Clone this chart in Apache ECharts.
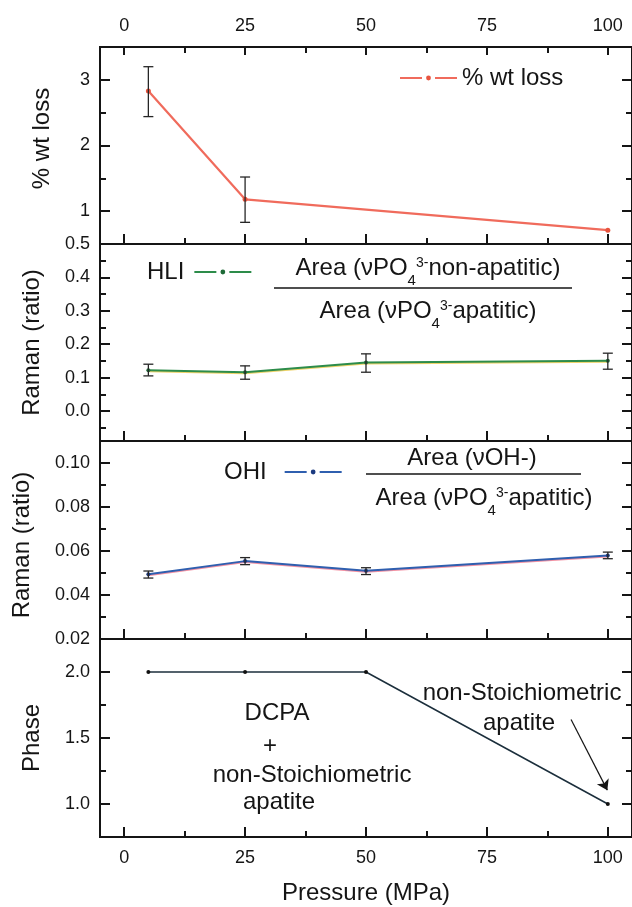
<!DOCTYPE html>
<html>
<head>
<meta charset="utf-8">
<script src="https://cdn.jsdelivr.net/npm/echarts@6/dist/echarts.min.js"></script>
<style>
  html, body { margin: 0; padding: 0; background: #fff; }
  #chart { width: 632px; height: 907px; }
</style>
</head>
<body>
<div id="chart"></div>
<script>
// pressure (MPa) of the samples
const pressure = [5, 25, 50, 100];
const wtPressure = [5, 25, 100];
// % weight loss
const wtLoss = [2.83, 1.18, 0.71];
const wtLow = [2.44, 0.83];
const wtHigh = [3.20, 1.52];
// HLI ratio
const hli = [0.122, 0.116, 0.145, 0.150];
const hliLow = [0.105, 0.095, 0.116, 0.125];
const hliHigh = [0.140, 0.135, 0.171, 0.173];
// OHI ratio
const ohi = [0.0494, 0.0554, 0.0510, 0.0580];
const ohiLow = [0.0477, 0.0538, 0.0493, 0.0565];
const ohiHigh = [0.0509, 0.0570, 0.0524, 0.0595];
// phase
const phase = [2.0, 2.0, 2.0, 1.0];
const arrowFrom = [92.4, 1.64];
const arrowTo = [99.9, 1.105];

// ticks
const xTicks = [0, 25, 50, 75, 100];
const xMinor = [12.5, 37.5, 62.5, 87.5];
const yNames = ['% wt loss', 'Raman (ratio)', 'Raman (ratio)', 'Phase'];
const yMin = [0.5, -0.09, 0.02, 0.75];
const yMax = [3.5, 0.5, 0.11, 2.25];
const yMajor = [[1, 2, 3], [0, 0.1, 0.2, 0.3, 0.4], [0.04, 0.06, 0.08, 0.10], [1.0, 1.5, 2.0]];
const yLabels = [[0.5, 1, 2, 3], [0, 0.1, 0.2, 0.3, 0.4], [0.02, 0.04, 0.06, 0.08, 0.10], [1.0, 1.5, 2.0]];
const yMinor = [[1.5, 2.5], [-0.05, 0.05, 0.15, 0.25, 0.35, 0.45], [0.03, 0.05, 0.07, 0.09], [1.25, 1.75]];
const yDecimals = [null, 1, 2, 1];

const FONT = 'Liberation Sans, Arial, Helvetica, sans-serif';
const INK = '#151515';
const gridTop = [47, 244, 441, 639];
const gridHeight = [197, 197, 198, 198];
const nameGaps = [42, 56, 66, 56];
const namePads = [[0, 0, 0, 14], 0, [0, 10, 0, 0], 0];

const chart = echarts.init(document.getElementById('chart'));

const grids = gridTop.map((t, i) => ({
  left: 100, top: t, width: 534, height: gridHeight[i],
  show: true, borderColor: INK, borderWidth: 2, backgroundColor: 'transparent'
}));

const xAxes = [];
const yAxes = [];
const mainX = [];
const mainY = [];

function xAxis(gi, pos, ticks, len, labels, extra) {
  xAxes.push(Object.assign({
    gridIndex: gi, type: 'value', min: -5, max: 105, position: pos,
    axisLine: { show: false, onZero: false },
    splitLine: { show: false },
    axisTick: { show: true, inside: true, length: len, customValues: ticks, lineStyle: { color: INK, width: 2 } },
    axisLabel: labels ? {
      show: true, customValues: xTicks, margin: 12,
      fontSize: 18, fontFamily: FONT, color: INK
    } : { show: false }
  }, extra || {}));
  return xAxes.length - 1;
}

function yAxis(gi, pos, ticks, len, labels, extra) {
  yAxes.push(Object.assign({
    gridIndex: gi, type: 'value', min: yMin[gi], max: yMax[gi], position: pos,
    axisLine: { show: false, onZero: false },
    splitLine: { show: false },
    axisTick: { show: true, inside: true, length: len, customValues: ticks, lineStyle: { color: INK, width: 2 } },
    axisLabel: labels ? {
      show: true, customValues: yLabels[gi], margin: 10,
      fontSize: 18, fontFamily: FONT, color: INK,
      formatter: v => yDecimals[gi] === null ? String(v) : v.toFixed(yDecimals[gi])
    } : { show: false }
  }, extra || {}));
  return yAxes.length - 1;
}

for (let i = 0; i < 4; i++) {
  const extra = i === 3 ? {
    name: 'Pressure (MPa)', nameLocation: 'middle', nameGap: 44,
    nameTextStyle: { fontSize: 24, fontFamily: FONT, color: INK }
  } : null;
  mainX.push(xAxis(i, 'bottom', xTicks, 10, i === 3, extra));
  xAxis(i, 'bottom', xMinor, 6, false);
  if (i === 0) {
    xAxis(i, 'top', xTicks, 8, true);
    xAxis(i, 'top', xMinor, 6, false);
  }
  mainY.push(yAxis(i, 'left', yMajor[i], 10, true, {
    name: yNames[i], nameLocation: 'middle', nameGap: nameGaps[i],
    nameTextStyle: { fontSize: 24, fontFamily: FONT, color: INK, padding: namePads[i] }
  }));
  yAxis(i, 'left', yMinor[i], 6, false);
  yAxis(i, 'right', yMajor[i], 10, false);
  yAxis(i, 'right', yMinor[i], 6, false);
}

function errorBars(gi, xs, lows, highs) {
  return {
    type: 'custom', xAxisIndex: mainX[gi], yAxisIndex: mainY[gi], silent: true, z: 4,
    data: lows.map((lo, k) => [xs[k], lo, highs[k]]),
    encode: { x: 0, y: [1, 2] },
    renderItem(params, api) {
      const lo = api.coord([api.value(0), api.value(1)]);
      const hi = api.coord([api.value(0), api.value(2)]);
      const w = 5;
      const st = { stroke: '#262626', lineWidth: 1.3 };
      return {
        type: 'group', children: [
          { type: 'line', shape: { x1: lo[0], y1: lo[1], x2: hi[0], y2: hi[1] }, style: st },
          { type: 'line', shape: { x1: lo[0] - w, y1: lo[1], x2: lo[0] + w, y2: lo[1] }, style: st },
          { type: 'line', shape: { x1: hi[0] - w, y1: hi[1], x2: hi[0] + w, y2: hi[1] }, style: st }
        ]
      };
    }
  };
}

function pairs(xs, ys) { return ys.map((y, k) => [xs[k], y]); }

const series = [
  {
    name: '% wt loss', type: 'line', xAxisIndex: mainX[0], yAxisIndex: mainY[0],
    data: pairs(wtPressure, wtLoss), symbol: 'circle', symbolSize: 5,
    lineStyle: { color: '#f06b5c', width: 2.2 }, itemStyle: { color: '#e8543f' }, z: 3
  },
  errorBars(0, wtPressure, wtLow, wtHigh),
  {
    name: 'HLI', type: 'line', xAxisIndex: mainX[1], yAxisIndex: mainY[1],
    data: pairs(pressure, hli), symbol: 'circle', symbolSize: 4,
    lineStyle: { color: '#2d8c4a', width: 2, shadowColor: 'rgba(235,200,70,0.8)', shadowOffsetY: 1 },
    itemStyle: { color: '#1d6a36' }, z: 3
  },
  errorBars(1, pressure, hliLow, hliHigh),
  {
    name: 'OHI', type: 'line', xAxisIndex: mainX[2], yAxisIndex: mainY[2],
    data: pairs(pressure, ohi), symbol: 'circle', symbolSize: 4,
    lineStyle: { color: '#2f5faf', width: 2, shadowColor: 'rgba(240,120,140,0.8)', shadowOffsetY: 1 },
    itemStyle: { color: '#1b3a80' }, z: 3
  },
  errorBars(2, pressure, ohiLow, ohiHigh),
  {
    name: 'Phase', type: 'line', xAxisIndex: mainX[3], yAxisIndex: mainY[3],
    data: pairs(pressure, phase), symbol: 'circle', symbolSize: 4,
    lineStyle: { color: '#1c2f3c', width: 1.5 }, itemStyle: { color: '#111' }, z: 3,
    markLine: {
      silent: true, symbol: ['none', 'arrow'], symbolSize: 10,
      lineStyle: { color: INK, width: 1.2, type: 'solid' },
      label: { show: false },
      data: [[{ coord: arrowFrom }, { coord: arrowTo }]]
    }
  }
];

function legend(name, left, top, align, textPad) {
  return {
    data: [name], left: left, top: top, align: align, padding: 0,
    itemWidth: 57, itemHeight: 6, selectedMode: false,
    lineStyle: { type: [22, 13] },
    textStyle: { fontSize: 24, fontFamily: FONT, color: INK, padding: textPad }
  };
}

const rich = {
  n: { fontSize: 24, fontFamily: FONT, color: INK, lineHeight: 40, verticalAlign: 'middle' },
  sub: { fontSize: 15, fontFamily: FONT, color: INK, lineHeight: 16, verticalAlign: 'bottom' },
  sup: { fontSize: 14, fontFamily: FONT, color: INK, lineHeight: 28, verticalAlign: 'top', padding: [8, 0, 0, 0] }
};

function richText(x, y, text) {
  return {
    type: 'text', x: x, y: y, silent: true,
    style: { text: text, rich: rich, align: 'center', verticalAlign: 'middle', fill: INK }
  };
}
function plainText(x, y, text) {
  return {
    type: 'text', x: x, y: y, silent: true,
    style: { text: text, font: '24px ' + FONT, align: 'center', verticalAlign: 'middle', fill: INK }
  };
}
function rule(x1, x2, y) {
  return { type: 'line', silent: true, shape: { x1: x1, y1: y, x2: x2, y2: y }, style: { stroke: INK, lineWidth: 1.5 } };
}

const graphics = [
  richText(428, 268, '{n|Area (νPO}{sub|4}{sup|3-}{n|non-apatitic)}'),
  rule(274, 572, 288),
  richText(428, 311, '{n|Area (νPO}{sub|4}{sup|3-}{n|apatitic)}'),
  richText(472, 458, '{n|Area (νOH-)}'),
  rule(366, 581, 474),
  richText(484, 498, '{n|Area (νPO}{sub|4}{sup|3-}{n|apatitic)}'),
  plainText(277, 713, 'DCPA'),
  plainText(270, 746, '+'),
  plainText(312, 775, 'non-Stoichiometric'),
  plainText(279, 802, 'apatite'),
  plainText(522, 693, 'non-Stoichiometric'),
  plainText(519, 723, 'apatite')
];

chart.setOption({
  animation: false,
  backgroundColor: '#fff',
  grid: grids,
  xAxis: xAxes,
  yAxis: yAxes,
  legend: [
    legend('% wt loss', 399, 66, 'left', 0),
    legend('HLI', 147, 260, 'right', [0, 5, 0, 0]),
    legend('OHI', 224, 460, 'right', [0, 13, 0, 0])
  ],
  graphic: graphics,
  series: series
});
</script>
</body>
</html>
